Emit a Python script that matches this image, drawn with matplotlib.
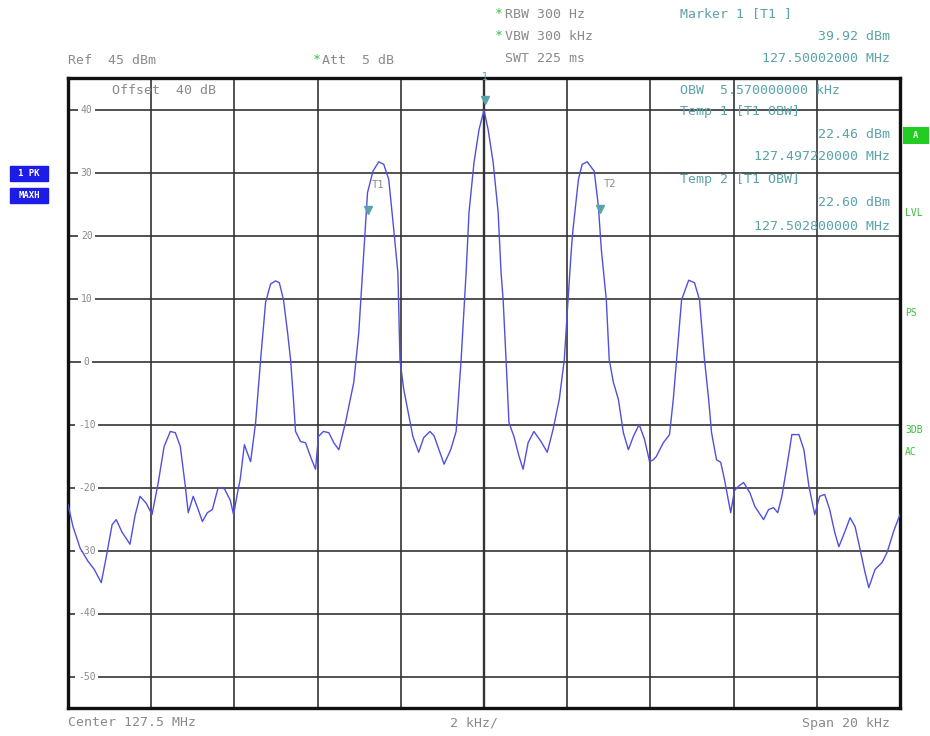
import matplotlib
matplotlib.use("Agg")
import matplotlib.pyplot as plt
from matplotlib.patches import Rectangle

# ---- data (frequency offset from centre in kHz, level in dBm) ----
freq_khz = [-10.00, -9.88, -9.71, -9.52, -9.37, -9.20, -9.08, -8.94, -8.84, -8.70,
            -8.51, -8.39, -8.27, -8.12, -7.98, -7.83, -7.69, -7.54, -7.42, -7.30,
            -7.18, -7.11, -6.99, -6.87, -6.77, -6.65, -6.53, -6.39, -6.24, -6.10,
            -6.02, -5.93, -5.86, -5.76, -5.69, -5.61, -5.49, -5.37, -5.25, -5.13,
            -5.01, -4.92, -4.82, -4.72, -4.65, -4.58, -4.53, -4.41, -4.29, -4.17,
            -4.05, -3.98, -3.86, -3.73, -3.61, -3.49, -3.33, -3.13, -3.01, -2.92,
            -2.80, -2.67, -2.53, -2.41, -2.29, -2.17, -2.07, -2.02, -1.93, -1.81,
            -1.71, -1.57, -1.45, -1.30, -1.20, -1.11, -0.96, -0.80, -0.67, -0.55,
            -0.43, -0.36, -0.24, -0.12, 0.00, 0.10, 0.22, 0.34, 0.41, 0.46,
            0.53, 0.60, 0.72, 0.84, 0.94, 1.06, 1.20, 1.37, 1.52, 1.66,
            1.81, 1.93, 2.02, 2.10, 2.14, 2.27, 2.36, 2.48, 2.65, 2.75,
            2.82, 2.94, 3.01, 3.11, 3.23, 3.35, 3.47, 3.59, 3.73, 3.86,
            3.98, 4.07, 4.14, 4.31, 4.46, 4.55, 4.63, 4.75, 4.92, 5.06,
            5.18, 5.30, 5.40, 5.47, 5.59, 5.69, 5.78, 5.93, 6.02, 6.12,
            6.24, 6.39, 6.51, 6.72, 6.84, 6.96, 7.06, 7.16, 7.28, 7.40,
            7.57, 7.69, 7.81, 7.95, 8.07, 8.19, 8.31, 8.43, 8.53, 8.67,
            8.80, 8.92, 9.04, 9.16, 9.25, 9.40, 9.57, 9.69, 9.86, 10.00]
level_dbm = [-22.7, -26.2, -29.6, -31.7, -33.0, -35.1, -31.0, -25.9, -25.1, -27.1,
             -29.0, -24.5, -21.4, -22.5, -24.3, -19.2, -13.5, -11.1, -11.3, -13.5,
             -19.8, -24.0, -21.4, -23.5, -25.4, -24.0, -23.5, -20.0, -20.2, -22.0,
             -24.3, -21.0, -18.7, -13.2, -14.5, -15.9, -9.7, 0.3, 9.4, 12.3,
             12.8, 12.5, 9.8, 4.5, 0.3, -6.0, -11.1, -12.7, -12.9, -15.1,
             -17.1, -11.9, -11.1, -11.3, -12.9, -14.0, -9.7, -3.3, 4.6, 14.1,
             26.8, 30.2, 31.7, 31.3, 28.9, 21.0, 14.1, 0.3, -4.4, -8.5,
             -11.9, -14.4, -12.1, -11.1, -11.8, -13.5, -16.3, -14.0, -11.1, 0.3,
             14.1, 23.7, 31.6, 36.8, 39.9, 36.8, 31.6, 23.7, 14.1, 9.8,
             0.3, -9.7, -11.9, -15.0, -17.1, -12.9, -11.1, -12.7, -14.4, -10.8,
             -6.0, 0.3, 9.8, 17.8, 21.0, 28.9, 31.3, 31.7, 30.2, 24.6,
             17.8, 9.8, 0.3, -3.3, -6.0, -11.3, -14.0, -11.9, -10.0, -12.4,
             -15.9, -15.6, -15.1, -12.9, -11.6, -6.0, 0.3, 9.8, 12.9, 12.5,
             9.8, 0.3, -6.0, -11.3, -15.6, -16.0, -18.7, -24.0, -20.5, -19.8,
             -19.2, -20.8, -23.0, -25.1, -23.5, -23.2, -24.0, -21.4, -16.7, -11.6,
             -11.6, -14.0, -19.8, -24.3, -21.4, -21.1, -23.5, -27.1, -29.4, -27.1,
             -24.8, -26.2, -29.8, -33.5, -35.9, -33.0, -31.9, -30.3, -26.7, -24.3]

marker_names = ["1", "T1", "T2"]
marker_khz = [0.02, -2.78, 2.80]
marker_dbm = [39.92, 22.46, 22.60]

y_ticks = [40, 30, 20, 10, 0, -10, -20, -30, -40, -50]
y_tick_labels = ["40", "30", "20", "10", "0", "-10", "-20", "-30", "-40", "-50"]

W, H = 930, 736
fig = plt.figure(figsize=(W / 100, H / 100), dpi=100)
fig.patch.set_facecolor("white")

def fx(x):
    return x / W

def fy(y):
    return 1 - y / H

ax = fig.add_axes([fx(68), fy(708), (900 - 68) / W, (708 - 78) / H])
ax.set_xlim(-10, 10)
ax.set_ylim(-55, 45)
ax.set_xticks([])
ax.set_yticks([])
for s in ax.spines.values():
    s.set_linewidth(2.4)
    s.set_color("#111111")

grid_col = "#333333"
for k in range(-8, 10, 2):
    ax.axvline(k, color=grid_col, lw=1.7 if k == 0 else 1.2, zorder=1)
for v in y_ticks:
    ax.axhline(v, color=grid_col, lw=1.2, zorder=1)

mono = "DejaVu Sans Mono"
gray = "#8a8a8a"
teal = "#5aa3a8"
green = "#3cbf3c"

for v, lab in zip(y_ticks, y_tick_labels):
    ax.text(-9.55, v, lab, fontsize=7, family=mono, color=gray, ha="center",
            va="center", zorder=2,
            bbox=dict(boxstyle="square,pad=0.25", fc="white", ec="none"))

ax.plot(freq_khz, level_dbm, color="#5050dc", lw=1.0, zorder=4)

# markers
for name, mk, md in zip(marker_names, marker_khz, marker_dbm):
    ax.plot([mk], [md + 1.6], marker="v", ms=6, color=teal, zorder=5)
    if name == "1":
        ax.text(mk, md + 5.2, name, fontsize=7, family=mono, color=teal,
                ha="center", va="center", zorder=5)
    else:
        ax.text(mk + 0.22, md + 5.6, name, fontsize=7.5, family=mono, color=gray,
                ha="center", va="center", zorder=5)

def t(x, y, s, color=gray, ha="left", size=9.5):
    fig.text(fx(x), fy(y), s, fontsize=size, family=mono, color=color,
             ha=ha, va="center")

# header left
t(68, 60, "Ref  45 dBm")
t(313, 60, "*", color=green)
t(322, 60, "Att  5 dB")
t(495, 14, "*", color=green)
t(505, 14, "RBW 300 Hz")
t(495, 36, "*", color=green)
t(505, 36, "VBW 300 kHz")
t(505, 59, "SWT 225 ms")

# marker info
t(680, 14, "Marker 1 [T1 ]", color=teal)
t(890, 37, "39.92 dBm", color=teal, ha="right")
t(890, 59, "127.50002000 MHz", color=teal, ha="right")

t(112, 90, "Offset  40 dB")
t(680, 90, "OBW  5.570000000 kHz", color=teal)
t(680, 112, "Temp 1 [T1 OBW]", color=teal)
t(890, 134, "22.46 dBm", color=teal, ha="right")
t(890, 157, "127.497220000 MHz", color=teal, ha="right")
t(680, 180, "Temp 2 [T1 OBW]", color=teal)
t(890, 203, "22.60 dBm", color=teal, ha="right")
t(890, 226, "127.502800000 MHz", color=teal, ha="right")

# bottom
t(68, 723, "Center 127.5 MHz")
t(450, 723, "2 kHz/")
t(890, 723, "Span 20 kHz", ha="right")

# left boxes
for y0, lab in [(166, "1 PK"), (188, "MAXH")]:
    fig.patches.append(Rectangle((fx(10), fy(y0 + 15)), 38 / W, 15 / H,
                                 transform=fig.transFigure, fc="#1c1ce6",
                                 ec="#1c1ce6"))
    fig.text(fx(29), fy(y0 + 7.5), lab, fontsize=6.5, family=mono,
             color="white", weight="bold", ha="center", va="center")

# right side
fig.patches.append(Rectangle((fx(903), fy(144)), 26 / W, 17 / H,
                             transform=fig.transFigure, fc="#22cc22", ec="none"))
fig.text(fx(916), fy(135.5), "A", fontsize=6.5, family=mono, color="#dfffdf",
         ha="center", va="center", weight="bold")
for y0, lab in [(213, "LVL"), (313, "PS"), (430, "3DB"), (452, "AC")]:
    fig.text(fx(905), fy(y0), lab, fontsize=7, family=mono, color=green,
             ha="left", va="center")

fig.savefig("out.png", dpi=100)
